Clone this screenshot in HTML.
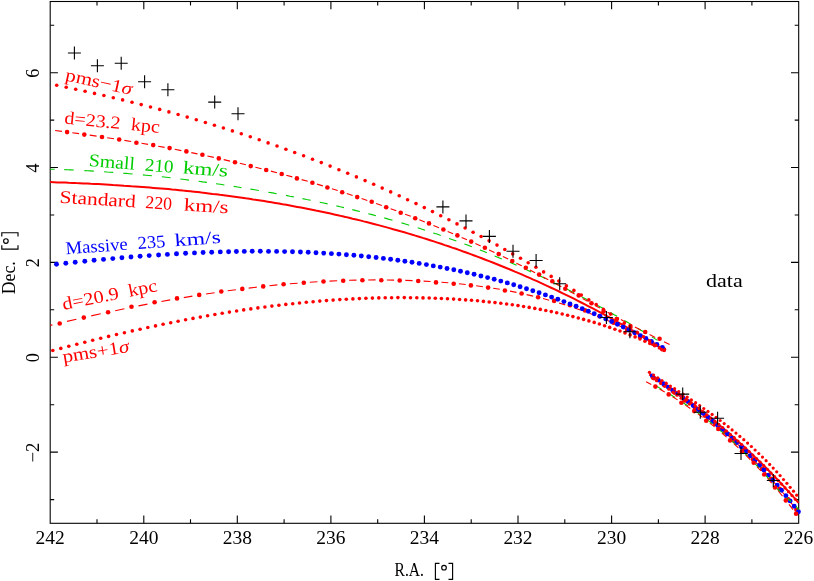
<!DOCTYPE html>
<html><head><meta charset="utf-8"><title>orbit fits</title>
<style>html,body{margin:0;padding:0;background:#fff}svg{display:block;will-change:transform}</style></head>
<body>
<svg width="814" height="581" viewBox="0 0 814 581" font-family="'Liberation Serif', serif">
<rect width="814" height="581" fill="#fff"/>
<defs><clipPath id="c"><rect x="49.7" y="1.5" width="752.1" height="521.8"/></clipPath></defs>
<rect x="50.2" y="1.5" width="748.5" height="521.8" fill="none" stroke="#000" stroke-width="1.08"/>
<path d="M751.9 523.3v-4M751.9 1.5v4M705.1 523.3v-7.7M705.1 1.5v7.7M658.4 523.3v-4M658.4 1.5v4M611.6 523.3v-7.7M611.6 1.5v7.7M564.8 523.3v-4M564.8 1.5v4M518 523.3v-7.7M518 1.5v7.7M471.2 523.3v-4M471.2 1.5v4M424.4 523.3v-7.7M424.4 1.5v7.7M377.7 523.3v-4M377.7 1.5v4M330.9 523.3v-7.7M330.9 1.5v7.7M284.1 523.3v-4M284.1 1.5v4M237.3 523.3v-7.7M237.3 1.5v7.7M190.5 523.3v-4M190.5 1.5v4M143.8 523.3v-7.7M143.8 1.5v7.7M97 523.3v-4M97 1.5v4M50.2 499.6h4M798.7 499.6h-4M50.2 452.1h7.7M798.7 452.1h-7.7M50.2 404.7h4M798.7 404.7h-4M50.2 357.3h7.7M798.7 357.3h-7.7M50.2 309.8h4M798.7 309.8h-4M50.2 262.4h7.7M798.7 262.4h-7.7M50.2 215h4M798.7 215h-4M50.2 167.5h7.7M798.7 167.5h-7.7M50.2 120.1h4M798.7 120.1h-4M50.2 72.7h7.7M798.7 72.7h-7.7M50.2 25.2h4M798.7 25.2h-4" fill="none" stroke="#000" stroke-width="1.1"/>
<g clip-path="url(#c)">
<path d="M50.3 182.1 L54 182.2 L57.7 182.4 L61.4 182.5 L65 182.6 L68.7 182.8 L72.4 182.9 L76.1 183.1 L79.8 183.2 L83.5 183.4 L87.2 183.6 L90.9 183.8 L94.5 183.9 L98.2 184.1 L101.9 184.3 L105.6 184.5 L109.3 184.7 L113 185 L116.7 185.2 L120.4 185.4 L124 185.7 L127.7 185.9 L131.4 186.2 L135.1 186.4 L138.8 186.7 L142.5 187 L146.2 187.3 L149.9 187.6 L153.5 187.9 L157.2 188.2 L160.9 188.5 L164.6 188.8 L168.3 189.1 L172 189.5 L175.7 189.8 L179.3 190.2 L183 190.6 L186.7 190.9 L190.4 191.3 L194.1 191.7 L197.8 192.1 L201.5 192.6 L205.2 193 L208.8 193.4 L212.5 193.9 L216.2 194.3 L219.9 194.8 L223.6 195.2 L227.3 195.7 L231 196.2 L234.7 196.7 L238.3 197.2 L242 197.7 L245.7 198.3 L249.4 198.8 L253.1 199.4 L256.8 199.9 L260.5 200.5 L264.1 201.1 L267.8 201.7 L271.5 202.3 L275.2 202.9 L278.9 203.5 L282.6 204.2 L286.3 204.8 L290 205.5 L293.6 206.2 L297.3 206.9 L301 207.6 L304.7 208.3 L308.4 209 L312.1 209.7 L315.8 210.5 L319.5 211.2 L323.1 212 L326.8 212.8 L330.5 213.6 L334.2 214.4 L337.9 215.2 L341.6 216.1 L345.3 216.9 L349 217.8 L352.6 218.7 L356.3 219.5 L360 220.4 L363.7 221.4 L367.4 222.3 L371.1 223.2 L374.8 224.2 L378.4 225.1 L382.1 226.1 L385.8 227.1 L389.5 228.1 L393.2 229.2 L396.9 230.2 L400.6 231.3 L404.3 232.3 L407.9 233.4 L411.6 234.5 L415.3 235.6 L419 236.7 L422.7 237.9 L426.4 239 L430.1 240.2 L433.8 241.4 L437.4 242.6 L441.1 243.8 L444.8 245.1 L448.5 246.3 L452.2 247.6 L455.9 248.8 L459.6 250.1 L463.2 251.5 L466.9 252.8 L470.6 254.1 L474.3 255.5 L478 256.9 L481.7 258.3 L485.4 259.7 L489.1 261.1 L492.7 262.5 L496.4 264 L500.1 265.5 L503.8 267 L507.5 268.5 L511.2 270 L514.9 271.6 L518.6 273.1 L522.2 274.7 L525.9 276.3 L529.6 277.9 L533.3 279.6 L537 281.2 L540.7 282.9 L544.4 284.6 L548.1 286.3 L551.7 288 L555.4 289.7 L559.1 291.5 L562.8 293.3 L566.5 295.1 L570.2 296.9 L573.9 298.7 L577.5 300.6 L581.2 302.5 L584.9 304.3 L588.6 306.3 L592.3 308.2 L596 310.1 L599.7 312.1 L603.4 314.1 L607 316.1 L610.7 318.1 L614.4 320.2 L618.1 322.3 L621.8 324.4 L625.5 326.5 L629.2 328.6 L632.9 330.7 L636.5 332.9 L640.2 335.1 L643.9 337.3 L647.6 339.5 L651.3 341.8 L655 344.1 L658.7 346.4 L662.3 348.7 L664.5 350" fill="none" stroke="#ff0000" stroke-width="2.0" stroke-linejoin="round"/>
<path d="M649.5 373.7 L650.4 374.3 L651.3 374.9 L652.2 375.5 L653.1 376.1 L654 376.7 L654.9 377.3 L655.8 377.9 L656.7 378.5 L657.6 379.1 L658.5 379.7 L659.3 380.3 L660.2 380.9 L661.1 381.5 L662 382.1 L662.9 382.7 L663.8 383.3 L664.7 383.9 L665.6 384.5 L666.5 385.1 L667.4 385.7 L668.3 386.4 L669.2 387 L670.1 387.6 L671 388.2 L671.9 388.9 L672.8 389.5 L673.7 390.1 L674.6 390.7 L675.5 391.4 L676.4 392 L677.2 392.7 L678.1 393.3 L679 393.9 L679.9 394.6 L680.8 395.2 L681.7 395.9 L682.6 396.5 L683.5 397.2 L684.4 397.8 L685.3 398.5 L686.2 399.1 L687.1 399.8 L688 400.5 L688.9 401.1 L689.8 401.8 L690.7 402.5 L691.6 403.1 L692.5 403.8 L693.4 404.5 L694.3 405.2 L695.1 405.8 L696 406.5 L696.9 407.2 L697.8 407.9 L698.7 408.6 L699.6 409.3 L700.5 410 L701.4 410.7 L702.3 411.4 L703.2 412.1 L704.1 412.8 L705 413.5 L705.9 414.2 L706.8 414.9 L707.7 415.6 L708.6 416.3 L709.5 417 L710.4 417.7 L711.3 418.5 L712.2 419.2 L713 419.9 L713.9 420.7 L714.8 421.4 L715.7 422.1 L716.6 422.9 L717.5 423.6 L718.4 424.3 L719.3 425.1 L720.2 425.8 L721.1 426.6 L722 427.3 L722.9 428.1 L723.8 428.8 L724.7 429.6 L725.6 430.4 L726.5 431.1 L727.4 431.9 L728.3 432.7 L729.2 433.5 L730.1 434.2 L730.9 435 L731.8 435.8 L732.7 436.6 L733.6 437.4 L734.5 438.2 L735.4 439 L736.3 439.7 L737.2 440.5 L738.1 441.3 L739 442.2 L739.9 443 L740.8 443.8 L741.7 444.6 L742.6 445.4 L743.5 446.2 L744.4 447 L745.3 447.9 L746.2 448.7 L747.1 449.5 L748 450.4 L748.9 451.2 L749.7 452 L750.6 452.9 L751.5 453.7 L752.4 454.6 L753.3 455.4 L754.2 456.3 L755.1 457.2 L756 458 L756.9 458.9 L757.8 459.7 L758.7 460.6 L759.6 461.5 L760.5 462.4 L761.4 463.3 L762.3 464.1 L763.2 465 L764.1 465.9 L765 466.8 L765.9 467.7 L766.8 468.6 L767.6 469.5 L768.5 470.4 L769.4 471.3 L770.3 472.2 L771.2 473.2 L772.1 474.1 L773 475 L773.9 475.9 L774.8 476.9 L775.7 477.8 L776.6 478.7 L777.5 479.7 L778.4 480.6 L779.3 481.6 L780.2 482.5 L781.1 483.5 L782 484.4 L782.9 485.4 L783.8 486.3 L784.7 487.3 L785.5 488.3 L786.4 489.3 L787.3 490.2 L788.2 491.2 L789.1 492.2 L790 493.2 L790.9 494.2 L791.8 495.2 L792.7 496.2 L793.6 497.2 L794.5 498.2 L795.4 499.2 L796.3 500.2 L797.2 501.3 L798.1 502.3 L798.6 502.9" fill="none" stroke="#ff0000" stroke-width="2.0" stroke-linejoin="round"/>
<path d="M50.3 325.4L52.4 324.9M67 321.4L76.4 319.3M91.2 315.9L100.7 313.8M115.2 310.7L124.4 308.8M138.5 305.9L147.5 304.1M161.4 301.5L170.2 299.9M183.8 297.6L192.4 296.1M205.9 294L214.6 292.7M227.7 290.8L235.9 289.7M248.7 288.1L256.8 287.1M269.4 285.7L277.4 284.9M289.8 283.8L297.6 283.2M309.8 282.3L317.5 281.8M329.5 281.1L337.2 280.8M349.1 280.3L356.5 280.1M368.2 280L375.5 279.9M386.9 280L394.1 280.1M405.3 280.4L412.6 280.6M423.6 281.1L430.6 281.5M441.4 282.2L448.3 282.8M459 283.8L465.7 284.5M476.2 285.8L482.9 286.7M493.2 288.2L499.8 289.3M510 291.1L516.5 292.4M526.6 294.6L533.1 296.1M543 298.5L549.2 300.2M559 303L565.2 304.9M574.6 308L580.4 310M589.4 313.3L595.1 315.4M603.8 319L609.3 321.3M617.6 325L622.9 327.4M631 331.3L636.1 333.9M643.8 338L648.7 340.6M656 344.8L660.5 347.4" fill="none" stroke="#ff0000" stroke-width="1.1"/>
<g fill="#ff0000"><circle cx="59.7" cy="323.5" r="2.3"/><circle cx="83.8" cy="317.6" r="2.3"/><circle cx="108.1" cy="312.2" r="2.3"/><circle cx="131.5" cy="306.7" r="2.3"/><circle cx="154.6" cy="302.3" r="2.3"/><circle cx="177" cy="298.4" r="2.3"/><circle cx="199.2" cy="294.9" r="2.3"/><circle cx="221.3" cy="291.5" r="2.3"/><circle cx="242.3" cy="288.9" r="2.3"/><circle cx="263.2" cy="286.4" r="2.3"/><circle cx="283.6" cy="284.2" r="2.3"/><circle cx="303.8" cy="282.7" r="2.3"/><circle cx="323.5" cy="281.5" r="2.3"/><circle cx="343.2" cy="280.8" r="2.3"/><circle cx="362.4" cy="280.3" r="2.3"/><circle cx="381.3" cy="280.3" r="2.3"/><circle cx="399.7" cy="280.5" r="2.3"/><circle cx="418.2" cy="281" r="2.3"/><circle cx="436" cy="282.4" r="2.3"/><circle cx="453.7" cy="283.7" r="2.3"/><circle cx="470.9" cy="285.4" r="2.3"/><circle cx="488.1" cy="287.6" r="2.3"/><circle cx="504.9" cy="290.5" r="2.3"/><circle cx="521.6" cy="293.5" r="2.3"/><circle cx="538.1" cy="297.2" r="2.3"/><circle cx="554.1" cy="300.9" r="2.3"/><circle cx="570" cy="305.2" r="2.3"/><circle cx="585" cy="310.4" r="2.3"/><circle cx="599.5" cy="316.2" r="2.3"/><circle cx="613.5" cy="322.7" r="2.3"/><circle cx="627" cy="329.8" r="2.3"/><circle cx="640" cy="337" r="2.3"/><circle cx="652.5" cy="343.6" r="2.3"/><circle cx="664" cy="349.6" r="2.3"/></g>
<path d="M649 374.8L650.8 376.1M657.1 380.4L661.1 383.1M667.4 387.5L671.4 390.4M677.7 394.9L681.7 397.8M687.9 402.4L691.8 405.4M698 410.2L701.9 413.3M708 418.2L711.9 421.4M717.9 426.4L721.7 429.7M727.6 435L731.4 438.4M737.2 443.8L740.9 447.3M746.6 452.9L750.2 456.5M755.8 462.3L759.4 466M764.8 471.9L768.3 475.8M773.6 481.8L777 485.8M782.3 492L785.6 496M790.7 502.4L793.9 506.5" fill="none" stroke="#ff0000" stroke-width="1.1"/>
<g fill="#ff0000"><circle cx="654" cy="378.2" r="2.3"/><circle cx="664.3" cy="385.3" r="2.3"/><circle cx="674.5" cy="392.6" r="2.3"/><circle cx="684.8" cy="400.1" r="2.3"/><circle cx="694.9" cy="407.8" r="2.3"/><circle cx="705" cy="415.7" r="2.3"/><circle cx="714.9" cy="423.9" r="2.3"/><circle cx="724.7" cy="432.3" r="2.3"/><circle cx="734.3" cy="441.1" r="2.3"/><circle cx="743.7" cy="450.1" r="2.3"/><circle cx="753" cy="459.4" r="2.3"/><circle cx="762.1" cy="468.9" r="2.3"/><circle cx="771" cy="478.8" r="2.3"/><circle cx="779.6" cy="488.9" r="2.3"/><circle cx="788.1" cy="499.2" r="2.3"/><circle cx="796.4" cy="509.8" r="2.3"/></g>
<g fill="#0000ff"><circle cx="56.5" cy="264.2" r="2.45"/><circle cx="65.8" cy="263.2" r="2.45"/><circle cx="75.2" cy="262.2" r="2.45"/><circle cx="84.8" cy="261.2" r="2.45"/><circle cx="94.1" cy="260.3" r="2.45"/><circle cx="103.5" cy="259.4" r="2.45"/><circle cx="112.8" cy="258.6" r="2.45"/><circle cx="121.9" cy="257.8" r="2.45"/><circle cx="131" cy="257" r="2.45"/><circle cx="140.1" cy="256.3" r="2.45"/><circle cx="149.2" cy="255.6" r="2.45"/><circle cx="158.6" cy="255" r="2.45"/><circle cx="167.4" cy="254.4" r="2.45"/><circle cx="176.5" cy="253.8" r="2.45"/><circle cx="185.6" cy="253.3" r="2.45"/><circle cx="194.5" cy="252.9" r="2.45"/><circle cx="203.1" cy="252.5" r="2.45"/><circle cx="211.7" cy="252.2" r="2.45"/><circle cx="220.3" cy="251.9" r="2.45"/><circle cx="228.6" cy="251.7" r="2.45"/><circle cx="236.4" cy="251.5" r="2.45"/><circle cx="244.3" cy="251.4" r="2.45"/><circle cx="252.2" cy="251.3" r="2.45"/><circle cx="260.3" cy="251.3" r="2.45"/><circle cx="268.5" cy="251.4" r="2.45"/><circle cx="276.6" cy="251.4" r="2.45"/><circle cx="284.6" cy="251.6" r="2.45"/><circle cx="292.5" cy="251.8" r="2.45"/><circle cx="300.4" cy="252" r="2.45"/><circle cx="308.2" cy="252.3" r="2.45"/><circle cx="316" cy="252.7" r="2.45"/><circle cx="323.7" cy="253.1" r="2.45"/><circle cx="331.4" cy="253.6" r="2.45"/><circle cx="338.9" cy="254.1" r="2.45"/><circle cx="346.4" cy="254.7" r="2.45"/><circle cx="353.9" cy="255.3" r="2.45"/><circle cx="361.3" cy="256" r="2.45"/><circle cx="368.7" cy="256.7" r="2.45"/><circle cx="376.1" cy="257.5" r="2.45"/><circle cx="383.4" cy="258.4" r="2.45"/><circle cx="390.6" cy="259.3" r="2.45"/><circle cx="397.8" cy="260.2" r="2.45"/><circle cx="404.9" cy="261.2" r="2.45"/><circle cx="412" cy="262.3" r="2.45"/><circle cx="419.2" cy="263.4" r="2.45"/><circle cx="426.4" cy="264.6" r="2.45"/><circle cx="433.3" cy="265.9" r="2.45"/><circle cx="440.2" cy="267.1" r="2.45"/><circle cx="447" cy="268.5" r="2.45"/><circle cx="453.8" cy="269.8" r="2.45"/><circle cx="460.5" cy="271.3" r="2.45"/><circle cx="467.3" cy="272.8" r="2.45"/><circle cx="474.1" cy="274.3" r="2.45"/><circle cx="480.9" cy="276" r="2.45"/><circle cx="487.6" cy="277.6" r="2.45"/><circle cx="494.2" cy="279.3" r="2.45"/><circle cx="500.8" cy="281.1" r="2.45"/><circle cx="507.3" cy="282.9" r="2.45"/><circle cx="513.7" cy="284.8" r="2.45"/><circle cx="520.1" cy="286.7" r="2.45"/><circle cx="526.5" cy="288.7" r="2.45"/><circle cx="532.8" cy="290.7" r="2.45"/><circle cx="539.1" cy="292.8" r="2.45"/><circle cx="545.4" cy="294.9" r="2.45"/><circle cx="551.6" cy="297.1" r="2.45"/><circle cx="557.8" cy="299.3" r="2.45"/><circle cx="563.9" cy="301.6" r="2.45"/><circle cx="570" cy="303.9" r="2.45"/><circle cx="576.1" cy="306.3" r="2.45"/><circle cx="582.2" cy="308.7" r="2.45"/><circle cx="588.3" cy="311.3" r="2.45"/><circle cx="594.2" cy="313.8" r="2.45"/><circle cx="600" cy="316.3" r="2.45"/><circle cx="605.8" cy="318.9" r="2.45"/><circle cx="611.6" cy="321.5" r="2.45"/><circle cx="617.4" cy="324.2" r="2.45"/><circle cx="623.2" cy="327" r="2.45"/><circle cx="628.9" cy="329.8" r="2.45"/><circle cx="634.7" cy="332.7" r="2.45"/><circle cx="640.4" cy="335.6" r="2.45"/><circle cx="645.9" cy="338.5" r="2.45"/><circle cx="651.4" cy="341.5" r="2.45"/><circle cx="656.9" cy="344.5" r="2.45"/><circle cx="662.4" cy="347.5" r="2.45"/></g>
<g fill="#0000ff"><circle cx="652.3" cy="375.9" r="2.45"/><circle cx="658.3" cy="380.1" r="2.45"/><circle cx="663.5" cy="383.7" r="2.45"/><circle cx="668.2" cy="387.1" r="2.45"/><circle cx="672.8" cy="390.4" r="2.45"/><circle cx="677.7" cy="393.9" r="2.45"/><circle cx="682.7" cy="397.6" r="2.45"/><circle cx="687.9" cy="401.5" r="2.45"/><circle cx="693.2" cy="405.6" r="2.45"/><circle cx="698.2" cy="409.5" r="2.45"/><circle cx="703.1" cy="413.3" r="2.45"/><circle cx="708.1" cy="417.4" r="2.45"/><circle cx="712.8" cy="421.3" r="2.45"/><circle cx="717.7" cy="425.4" r="2.45"/><circle cx="722.3" cy="429.4" r="2.45"/><circle cx="727.4" cy="433.9" r="2.45"/><circle cx="732" cy="438.1" r="2.45"/><circle cx="736.7" cy="442.5" r="2.45"/><circle cx="741.3" cy="446.8" r="2.45"/><circle cx="746" cy="451.4" r="2.45"/><circle cx="750.3" cy="455.7" r="2.45"/><circle cx="754.9" cy="460.5" r="2.45"/><circle cx="759.5" cy="465.3" r="2.45"/><circle cx="763.9" cy="470" r="2.45"/><circle cx="768.5" cy="475.1" r="2.45"/><circle cx="772.9" cy="480.1" r="2.45"/><circle cx="777.2" cy="485.1" r="2.45"/><circle cx="781.5" cy="490.3" r="2.45"/><circle cx="785.9" cy="495.7" r="2.45"/><circle cx="790.1" cy="500.9" r="2.45"/><circle cx="794.2" cy="506.2" r="2.45"/><circle cx="798.4" cy="511.8" r="2.45"/></g>
<path d="M50.3 169.2L54.7 169.3M64.3 169.6L67.5 169.8L70.7 169.9L73.8 170M84.4 170.6L87.5 170.7L90.6 170.9L93.8 171.1M104.1 171.7L107.1 172L110.2 172.2L113.2 172.4M123.2 173.2L126.3 173.4L129.4 173.7L132.6 174M142.9 174.9L145.9 175.2L148.9 175.5L151.9 175.8M161.8 176.8L166.2 177.3L170.6 177.8M180.3 179L184.6 179.5L189 180.1M198.6 181.3L202.7 181.9L206.9 182.4M216 183.7L220.2 184.3L224.4 185M233.7 186.4L237.7 187L241.6 187.7M250.4 189.1L254.7 189.8L258.9 190.5M268.3 192.2L272.5 192.9L276.7 193.7M286 195.4L289.9 196.2L293.8 196.9M302.5 198.6L306.6 199.5L310.7 200.3M319.7 202.2L323.7 203L327.6 203.9M336.4 205.9L340.2 206.8L344 207.6M352.3 209.6L356.1 210.6L359.9 211.5M368.3 213.7L372.1 214.6L375.9 215.7M384.3 217.9L388.4 219.1L392.5 220.2M401.5 222.9L405.4 224L409.2 225.2M417.7 227.8L421.4 229L425.1 230.2M433.2 232.9L437 234.1L440.8 235.4M449.1 238.4L452.7 239.7L456.4 241M464.4 244L468.1 245.3L471.8 246.8M479.9 249.9L483.4 251.3L486.9 252.7M494.6 255.9L498.2 257.4L501.8 258.9M509.8 262.3L513.2 263.8L516.6 265.3M524.1 268.7L527.6 270.3L531.1 271.9M538.9 275.5L542.3 277.1L545.6 278.7M553 282.3L556.4 283.9L559.7 285.6M567.1 289.3L570.6 291.1L574.2 292.9M582 297L585.5 298.8L589 300.7M596.7 304.9L600 306.7L603.3 308.5M610.5 312.5L613.8 314.4L617.1 316.2M624.3 320.4L627.4 322.2L630.6 324.1M637.5 328.2L640.9 330.3L644.4 332.3M651.9 336.9L654.7 338.6L657.4 340.4" fill="none" stroke="#00cc00" stroke-width="1.1"/>
<path d="M655.4 385.7L658.7 387.6L662.1 389.6M668.7 393.5L671.9 395.5L675.1 397.5M681.4 401.5L684.6 403.7L687.8 405.8M694.2 410.2L697.2 412.4L700.2 414.6M706.2 419.1L709.3 421.4L712.3 423.8M718.3 428.8L721.3 431.3L724.3 433.8M730.1 439.1L733.1 441.8L736.1 444.6M742 450.4L745 453.3L747.9 456.3M753.7 462.3L756.4 465.1L759 468M764.2 473.7L766.9 476.7L769.6 479.8M775 486L777.6 489L780.2 491.9M785.8 497.5L788.5 499.5L791.2 501.5M796.1 506.2L798.6 509.8" fill="none" stroke="#00cc00" stroke-width="1.1"/>
<path d="M55.1 130.5L61.9 131.4M72.3 132.7L79.1 133.6M89.7 135.1L96.6 136.1M107.2 137.7L114 138.8M124.4 140.4L131.2 141.5M141.5 143.3L148.1 144.4M158.2 146.2L164.6 147.4M174.7 149.3L181.3 150.6M191.3 152.6L197.5 153.9M207.4 156L213.8 157.4M223.7 159.6L230.1 161.1M239.8 163.3L245.9 164.8M255.4 167.2L261.5 168.7M270.9 171.1L277 172.7M286.3 175.3L292.3 176.9M301.6 179.6L307.7 181.3M317 184.1L322.8 185.9M331.9 188.7L337.7 190.5M346.8 193.5L352.6 195.4M361.6 198.4L367.3 200.4M376.1 203.5L381.8 205.5M390.6 208.7L396.3 210.8M405.1 214.2L410.8 216.3M419.4 219.7L424.8 221.9M433.4 225.4L439 227.7M447.7 231.4L453.1 233.7M461.6 237.4L467 239.8M475.4 243.6L480.7 246M489.1 249.9L494.5 252.5M502.9 256.5L508.2 259.1M516.4 263.2L521.7 265.8M529.9 270L535.1 272.7M543.1 277L548.3 279.7M556.3 284L561.3 286.8M569.4 291.2L574.6 294M582.6 298.5L587.6 301.2M595.2 305.4L599.9 308M607.6 312.3L612.7 315M620.9 319.5L626.2 322.4M634.9 327L640.7 330M649.6 334.6L655.2 337.4M664 341.8L669.6 344.4" fill="none" stroke="#ff0000" stroke-width="1.1"/>
<g fill="#ff0000"><circle cx="67.1" cy="132.1" r="2.3"/><circle cx="84.3" cy="134.6" r="2.3"/><circle cx="102" cy="137" r="2.3"/><circle cx="119.2" cy="139.5" r="2.3"/><circle cx="136.4" cy="142.7" r="2.3"/><circle cx="153.2" cy="145.1" r="2.3"/><circle cx="169.6" cy="148.1" r="2.3"/><circle cx="186.4" cy="151.4" r="2.3"/><circle cx="202.4" cy="154.7" r="2.3"/><circle cx="218.8" cy="158.4" r="2.3"/><circle cx="235" cy="162.3" r="2.3"/><circle cx="250.7" cy="166.1" r="2.3"/><circle cx="266.2" cy="170" r="2.3"/><circle cx="281.7" cy="174" r="2.3"/><circle cx="296.9" cy="178.4" r="2.3"/><circle cx="312.4" cy="182.8" r="2.3"/><circle cx="327.4" cy="187.5" r="2.3"/><circle cx="342.2" cy="192.2" r="2.3"/><circle cx="357.2" cy="197.1" r="2.3"/><circle cx="371.7" cy="201.8" r="2.3"/><circle cx="386.2" cy="207.2" r="2.3"/><circle cx="400.7" cy="212.8" r="2.3"/><circle cx="415.2" cy="218.3" r="2.3"/><circle cx="429" cy="223.4" r="2.3"/><circle cx="443.4" cy="229.5" r="2.3"/><circle cx="457.4" cy="235.4" r="2.3"/><circle cx="471.2" cy="241.6" r="2.3"/><circle cx="484.9" cy="247.7" r="2.3"/><circle cx="498.7" cy="254.1" r="2.3"/><circle cx="512.3" cy="261" r="2.3"/><circle cx="525.8" cy="267.7" r="2.3"/><circle cx="539.1" cy="274.6" r="2.3"/><circle cx="552.3" cy="281.2" r="2.3"/><circle cx="565.3" cy="288.8" r="2.3"/><circle cx="578.7" cy="295.4" r="2.3"/><circle cx="591.5" cy="303.3" r="2.3"/><circle cx="603.6" cy="311.2" r="2.3"/><circle cx="616.7" cy="319.1" r="2.3"/><circle cx="630.4" cy="326" r="2.3"/><circle cx="645.2" cy="332" r="2.3"/><circle cx="659.6" cy="338.7" r="2.3"/></g>
<path d="M646.1 381.7L651.3 384.5M659.5 389L664.7 392M672.6 396.8L677.6 399.9M685.3 405.1L690.3 408.5M697.9 413.9L702.6 417.4M709.9 423.1L714.6 426.9M721.9 433L726.5 437M733.8 443.5L738.4 447.9M745.6 454.9L750.2 459.5M756.9 466.6L761 471M767.5 478.3L771.7 483.2M778.3 491L782.5 496.2M789 504.4L793 509.7" fill="none" stroke="#ff0000" stroke-width="1.1"/>
<g fill="#ff0000"><circle cx="655.4" cy="386.6" r="2.3"/><circle cx="668.7" cy="394.4" r="2.3"/><circle cx="681.4" cy="402.8" r="2.3"/><circle cx="694.2" cy="411.1" r="2.3"/><circle cx="706.2" cy="420.7" r="2.3"/><circle cx="718.3" cy="428.9" r="2.3"/><circle cx="730.1" cy="440.4" r="2.3"/><circle cx="742" cy="451.5" r="2.3"/><circle cx="753.7" cy="462.8" r="2.3"/><circle cx="764.2" cy="474.5" r="2.3"/><circle cx="775" cy="487.5" r="2.3"/><circle cx="785.8" cy="500.4" r="2.3"/><circle cx="796.1" cy="513.8" r="2.3"/></g>
<g fill="#ff0000"><circle cx="56.7" cy="85.3" r="1.8"/><circle cx="66.2" cy="87.3" r="1.8"/><circle cx="75.7" cy="89.2" r="1.8"/><circle cx="85.1" cy="91.3" r="1.8"/><circle cx="94.5" cy="93.4" r="1.8"/><circle cx="103.9" cy="95.5" r="1.8"/><circle cx="113.3" cy="97.7" r="1.8"/><circle cx="122.6" cy="99.9" r="1.8"/><circle cx="132" cy="102.2" r="1.8"/><circle cx="141.2" cy="104.6" r="1.8"/><circle cx="150.5" cy="107" r="1.8"/><circle cx="159.7" cy="109.4" r="1.8"/><circle cx="168.9" cy="111.9" r="1.8"/><circle cx="178.1" cy="114.5" r="1.8"/><circle cx="187.2" cy="117.1" r="1.8"/><circle cx="196.3" cy="119.8" r="1.8"/><circle cx="205.4" cy="122.5" r="1.8"/><circle cx="214.4" cy="125.2" r="1.8"/><circle cx="223.4" cy="128" r="1.8"/><circle cx="232.4" cy="130.9" r="1.8"/><circle cx="241.3" cy="133.8" r="1.8"/><circle cx="250.3" cy="136.8" r="1.8"/><circle cx="259.2" cy="139.8" r="1.8"/><circle cx="268.1" cy="142.9" r="1.8"/><circle cx="277" cy="146" r="1.8"/><circle cx="285.9" cy="149.2" r="1.8"/><circle cx="294.7" cy="152.5" r="1.8"/><circle cx="303.6" cy="155.8" r="1.8"/><circle cx="312.5" cy="159.2" r="1.8"/><circle cx="321.3" cy="162.6" r="1.8"/><circle cx="330.1" cy="166.1" r="1.8"/><circle cx="338.9" cy="169.7" r="1.8"/><circle cx="347.7" cy="173.3" r="1.8"/><circle cx="356.4" cy="176.9" r="1.8"/><circle cx="365.1" cy="180.6" r="1.8"/><circle cx="373.7" cy="184.3" r="1.8"/><circle cx="382.2" cy="188.1" r="1.8"/><circle cx="390.7" cy="191.9" r="1.8"/><circle cx="399.2" cy="195.8" r="1.8"/><circle cx="407.6" cy="199.7" r="1.8"/><circle cx="416" cy="203.6" r="1.8"/><circle cx="424.3" cy="207.6" r="1.8"/><circle cx="432.5" cy="211.6" r="1.8"/><circle cx="440.7" cy="215.7" r="1.8"/><circle cx="448.9" cy="219.8" r="1.8"/><circle cx="457" cy="223.9" r="1.8"/><circle cx="465.1" cy="228" r="1.8"/><circle cx="473.1" cy="232.3" r="1.8"/><circle cx="481.1" cy="236.5" r="1.8"/><circle cx="489.1" cy="240.8" r="1.8"/><circle cx="497" cy="245.1" r="1.8"/><circle cx="504.8" cy="249.5" r="1.8"/><circle cx="512.7" cy="253.9" r="1.8"/><circle cx="520.5" cy="258.3" r="1.8"/><circle cx="528.2" cy="262.8" r="1.8"/><circle cx="535.9" cy="267.3" r="1.8"/><circle cx="543.6" cy="271.9" r="1.8"/><circle cx="551.2" cy="276.4" r="1.8"/><circle cx="558.8" cy="281.1" r="1.8"/><circle cx="566.4" cy="285.7" r="1.8"/><circle cx="573.9" cy="290.4" r="1.8"/><circle cx="581.3" cy="295.1" r="1.8"/><circle cx="588.8" cy="299.9" r="1.8"/><circle cx="596.2" cy="304.6" r="1.8"/><circle cx="603.4" cy="309.4" r="1.8"/><circle cx="610.5" cy="314.1" r="1.8"/><circle cx="617.4" cy="318.7" r="1.8"/><circle cx="624.2" cy="323.3" r="1.8"/><circle cx="630.8" cy="327.8" r="1.8"/><circle cx="637.3" cy="332.3" r="1.8"/><circle cx="643.6" cy="336.7" r="1.8"/><circle cx="649.7" cy="341" r="1.8"/><circle cx="655.8" cy="345.3" r="1.8"/><circle cx="661.7" cy="349.6" r="1.8"/></g>
<g fill="#ff0000"><circle cx="52.8" cy="350.5" r="1.8"/><circle cx="60.8" cy="348.4" r="1.8"/><circle cx="68.8" cy="346.3" r="1.8"/><circle cx="76.8" cy="344.2" r="1.8"/><circle cx="84.8" cy="342.2" r="1.8"/><circle cx="92.7" cy="340.3" r="1.8"/><circle cx="100.7" cy="338.3" r="1.8"/><circle cx="108.6" cy="336.4" r="1.8"/><circle cx="116.5" cy="334.5" r="1.8"/><circle cx="124.4" cy="332.7" r="1.8"/><circle cx="132.3" cy="330.9" r="1.8"/><circle cx="140.1" cy="329.2" r="1.8"/><circle cx="147.8" cy="327.5" r="1.8"/><circle cx="155.5" cy="325.9" r="1.8"/><circle cx="163.1" cy="324.3" r="1.8"/><circle cx="170.7" cy="322.7" r="1.8"/><circle cx="178.1" cy="321.3" r="1.8"/><circle cx="185.6" cy="319.8" r="1.8"/><circle cx="193" cy="318.4" r="1.8"/><circle cx="200.3" cy="317.1" r="1.8"/><circle cx="207.6" cy="315.8" r="1.8"/><circle cx="214.9" cy="314.5" r="1.8"/><circle cx="222.2" cy="313.3" r="1.8"/><circle cx="229.4" cy="312.1" r="1.8"/><circle cx="236.6" cy="311" r="1.8"/><circle cx="243.7" cy="309.9" r="1.8"/><circle cx="250.8" cy="308.9" r="1.8"/><circle cx="257.9" cy="307.9" r="1.8"/><circle cx="264.9" cy="307" r="1.8"/><circle cx="271.9" cy="306.1" r="1.8"/><circle cx="278.9" cy="305.2" r="1.8"/><circle cx="285.8" cy="304.4" r="1.8"/><circle cx="292.7" cy="303.7" r="1.8"/><circle cx="299.5" cy="303" r="1.8"/><circle cx="306.3" cy="302.3" r="1.8"/><circle cx="313.1" cy="301.7" r="1.8"/><circle cx="319.8" cy="301.1" r="1.8"/><circle cx="326.5" cy="300.6" r="1.8"/><circle cx="333.1" cy="300.1" r="1.8"/><circle cx="339.8" cy="299.6" r="1.8"/><circle cx="346.3" cy="299.2" r="1.8"/><circle cx="352.9" cy="298.9" r="1.8"/><circle cx="359.4" cy="298.6" r="1.8"/><circle cx="365.9" cy="298.3" r="1.8"/><circle cx="372.4" cy="298.1" r="1.8"/><circle cx="378.8" cy="297.9" r="1.8"/><circle cx="385.2" cy="297.8" r="1.8"/><circle cx="391.6" cy="297.7" r="1.8"/><circle cx="397.9" cy="297.6" r="1.8"/><circle cx="404.3" cy="297.6" r="1.8"/><circle cx="410.5" cy="297.7" r="1.8"/><circle cx="416.8" cy="297.7" r="1.8"/><circle cx="423" cy="297.9" r="1.8"/><circle cx="429.2" cy="298" r="1.8"/><circle cx="435.3" cy="298.2" r="1.8"/><circle cx="441.4" cy="298.5" r="1.8"/><circle cx="447.5" cy="298.8" r="1.8"/><circle cx="453.6" cy="299.1" r="1.8"/><circle cx="459.6" cy="299.5" r="1.8"/><circle cx="465.6" cy="299.9" r="1.8"/><circle cx="471.5" cy="300.3" r="1.8"/><circle cx="477.5" cy="300.8" r="1.8"/><circle cx="483.4" cy="301.4" r="1.8"/><circle cx="489.2" cy="302" r="1.8"/><circle cx="495" cy="302.6" r="1.8"/><circle cx="500.8" cy="303.3" r="1.8"/><circle cx="506.6" cy="304" r="1.8"/><circle cx="512.3" cy="304.8" r="1.8"/><circle cx="518" cy="305.6" r="1.8"/><circle cx="523.6" cy="306.5" r="1.8"/><circle cx="529.2" cy="307.4" r="1.8"/><circle cx="534.8" cy="308.4" r="1.8"/><circle cx="540.3" cy="309.4" r="1.8"/><circle cx="545.8" cy="310.5" r="1.8"/><circle cx="551.3" cy="311.6" r="1.8"/><circle cx="556.7" cy="312.8" r="1.8"/><circle cx="562.2" cy="314" r="1.8"/><circle cx="567.6" cy="315.3" r="1.8"/><circle cx="572.9" cy="316.6" r="1.8"/><circle cx="578.3" cy="318" r="1.8"/><circle cx="583.6" cy="319.4" r="1.8"/><circle cx="588.9" cy="320.9" r="1.8"/><circle cx="594.2" cy="322.4" r="1.8"/><circle cx="599.4" cy="324" r="1.8"/><circle cx="604.6" cy="325.7" r="1.8"/><circle cx="609.7" cy="327.4" r="1.8"/><circle cx="614.9" cy="329.2" r="1.8"/><circle cx="620" cy="331" r="1.8"/><circle cx="625" cy="332.9" r="1.8"/><circle cx="630.1" cy="334.9" r="1.8"/><circle cx="635.1" cy="336.9" r="1.8"/><circle cx="640" cy="339" r="1.8"/><circle cx="644.9" cy="341.2" r="1.8"/><circle cx="649.8" cy="343.4" r="1.8"/><circle cx="654.6" cy="345.7" r="1.8"/><circle cx="659.4" cy="348" r="1.8"/><circle cx="664.1" cy="350.4" r="1.8"/></g>
<g fill="#ff0000"><circle cx="649.4" cy="372.3" r="1.6"/><circle cx="653.6" cy="375" r="1.6"/><circle cx="657.8" cy="377.8" r="1.6"/><circle cx="662" cy="380.5" r="1.6"/><circle cx="666.2" cy="383.2" r="1.6"/><circle cx="670.4" cy="386" r="1.6"/><circle cx="674.6" cy="388.7" r="1.6"/><circle cx="678.8" cy="391.5" r="1.6"/><circle cx="683" cy="394.2" r="1.6"/><circle cx="687.2" cy="397" r="1.6"/><circle cx="691.4" cy="399.9" r="1.6"/><circle cx="695.6" cy="402.7" r="1.6"/><circle cx="699.7" cy="405.6" r="1.6"/><circle cx="703.8" cy="408.5" r="1.6"/><circle cx="708" cy="411.4" r="1.6"/><circle cx="712.1" cy="414.4" r="1.6"/><circle cx="716.1" cy="417.4" r="1.6"/><circle cx="720.2" cy="420.5" r="1.6"/><circle cx="724.2" cy="423.6" r="1.6"/><circle cx="728.2" cy="426.7" r="1.6"/><circle cx="732.1" cy="429.9" r="1.6"/><circle cx="736" cy="433.1" r="1.6"/><circle cx="739.9" cy="436.4" r="1.6"/><circle cx="743.8" cy="439.7" r="1.6"/><circle cx="747.6" cy="443.1" r="1.6"/><circle cx="751.4" cy="446.5" r="1.6"/><circle cx="755.1" cy="450" r="1.6"/><circle cx="758.8" cy="453.5" r="1.6"/><circle cx="762.5" cy="457.1" r="1.6"/><circle cx="766.1" cy="460.7" r="1.6"/><circle cx="769.7" cy="464.4" r="1.6"/><circle cx="773.2" cy="468.1" r="1.6"/><circle cx="776.7" cy="471.8" r="1.6"/><circle cx="780.1" cy="475.6" r="1.6"/><circle cx="783.5" cy="479.5" r="1.6"/><circle cx="786.9" cy="483.3" r="1.6"/><circle cx="790.2" cy="487.3" r="1.6"/><circle cx="793.5" cy="491.2" r="1.6"/><circle cx="796.7" cy="495.2" r="1.6"/></g>
<g fill="#ff0000"><circle cx="678.6" cy="393.8" r="1.6"/><circle cx="682.8" cy="396.7" r="1.6"/><circle cx="686.9" cy="399.6" r="1.6"/><circle cx="691" cy="402.6" r="1.6"/><circle cx="695" cy="405.6" r="1.6"/><circle cx="699" cy="408.6" r="1.6"/><circle cx="703" cy="411.7" r="1.6"/><circle cx="707" cy="414.8" r="1.6"/><circle cx="711" cy="418" r="1.6"/><circle cx="714.9" cy="421.2" r="1.6"/><circle cx="718.8" cy="424.4" r="1.6"/><circle cx="722.7" cy="427.7" r="1.6"/><circle cx="726.5" cy="431" r="1.6"/><circle cx="730.3" cy="434.3" r="1.6"/><circle cx="734.2" cy="437.7" r="1.6"/><circle cx="737.9" cy="441.1" r="1.6"/><circle cx="741.7" cy="444.5" r="1.6"/><circle cx="745.4" cy="448" r="1.6"/><circle cx="749.1" cy="451.5" r="1.6"/><circle cx="752.8" cy="455" r="1.6"/><circle cx="756.5" cy="458.5" r="1.6"/><circle cx="760.1" cy="462.1" r="1.6"/><circle cx="763.8" cy="465.7" r="1.6"/><circle cx="767.4" cy="469.3" r="1.6"/><circle cx="771" cy="473" r="1.6"/><circle cx="774.5" cy="476.7" r="1.6"/><circle cx="778.1" cy="480.4" r="1.6"/><circle cx="781.6" cy="484.1" r="1.6"/><circle cx="785.1" cy="487.9" r="1.6"/><circle cx="788.5" cy="491.7" r="1.6"/><circle cx="792" cy="495.5" r="1.6"/><circle cx="795.4" cy="499.3" r="1.6"/></g>
<g fill="#ff0000"><circle cx="652.3" cy="378.1" r="1.6"/><circle cx="656.5" cy="380.7" r="1.6"/><circle cx="660.7" cy="383.4" r="1.6"/><circle cx="664.8" cy="386.3" r="1.6"/><circle cx="668.9" cy="389.2" r="1.6"/><circle cx="673" cy="392.2" r="1.6"/><circle cx="677" cy="395.2" r="1.6"/><circle cx="681.1" cy="398.2" r="1.6"/><circle cx="685.1" cy="401.1" r="1.6"/><circle cx="689.2" cy="404.1" r="1.6"/></g>
</g>
<path d="M67.9 53h13M74.4 46.5v13M90.9 65.7h13M97.4 59.2v13M114.7 63.2h13M121.2 56.7v13M138.1 81.7h13M144.6 75.2v13M161.4 89.8h13M167.9 83.3v13M208.2 102.1h13M214.7 95.6v13M231.5 113.7h13M238 107.2v13M436.4 206.9h13M442.9 200.4v13M459.5 220.9h13M466 214.4v13M482.9 236.4h13M489.4 229.9v13M506.5 251.2h13M513 244.7v13M529.6 260.5h13M536.1 254v13M553.2 283.8h13M559.7 277.3v13M599.9 317.5h13M606.4 311v13M623.4 331.8h13M629.9 325.3v13M676.2 394.1h13M682.7 387.6v13M693.8 412.3h13M700.3 405.8v13M711.1 418.3h13M717.6 411.8v13M734.5 453.5h13M741 447v13M766.8 480.5h13M773.3 474v13" fill="none" stroke="#000" stroke-width="1.1"/>
<g font-size="18.2" fill="#000" text-anchor="middle">
<text x="798.7" y="544.3" textLength="29.2" lengthAdjust="spacingAndGlyphs">226</text>
<text x="705.1" y="544.3" textLength="29.2" lengthAdjust="spacingAndGlyphs">228</text>
<text x="611.6" y="544.3" textLength="29.2" lengthAdjust="spacingAndGlyphs">230</text>
<text x="518" y="544.3" textLength="29.2" lengthAdjust="spacingAndGlyphs">232</text>
<text x="424.4" y="544.3" textLength="29.2" lengthAdjust="spacingAndGlyphs">234</text>
<text x="330.9" y="544.3" textLength="29.2" lengthAdjust="spacingAndGlyphs">236</text>
<text x="237.3" y="544.3" textLength="29.2" lengthAdjust="spacingAndGlyphs">238</text>
<text x="143.8" y="544.3" textLength="29.2" lengthAdjust="spacingAndGlyphs">240</text>
<text x="50.2" y="544.3" textLength="29.2" lengthAdjust="spacingAndGlyphs">242</text>
<text transform="translate(39.4 452.5) rotate(-90)" textLength="20" lengthAdjust="spacingAndGlyphs">−2</text>
<text transform="translate(39.4 357.7) rotate(-90)" textLength="9.1" lengthAdjust="spacingAndGlyphs">0</text>
<text transform="translate(39.4 262.8) rotate(-90)" textLength="9.1" lengthAdjust="spacingAndGlyphs">2</text>
<text transform="translate(39.4 167.9) rotate(-90)" textLength="9.1" lengthAdjust="spacingAndGlyphs">4</text>
<text transform="translate(39.4 73.1) rotate(-90)" textLength="9.1" lengthAdjust="spacingAndGlyphs">6</text>
<text x="394.6" y="576.2" text-anchor="start" textLength="29.4" lengthAdjust="spacingAndGlyphs">R.A.</text>
<text transform="translate(15.2 294.2) rotate(-90)" text-anchor="start" textLength="33" lengthAdjust="spacingAndGlyphs">Dec.</text>
<g fill="none" stroke="#000" stroke-width="1.15"><path d="M439.5 563.4H435.4V579.3H439.5M448.5 563.4H452.6V579.3H448.5"/><circle cx="444" cy="567.7" r="2.3"/><path d="M1.8 245.2V249.1H18V245.2M1.8 236.6V232.7H18V236.6"/><circle cx="5.9" cy="241" r="2.3"/></g>
</g>
<text transform="translate(64.6 80.3) rotate(12.4)" font-size="18.0" fill="#ff0000" textLength="67.9" lengthAdjust="spacingAndGlyphs" xml:space="preserve">pms−1<tspan font-style="italic">σ</tspan></text>
<g transform="translate(64 123.6) rotate(5.6)" font-size="18.0" fill="#ff0000"><text x="0" y="0" textLength="56.3" lengthAdjust="spacingAndGlyphs">d=23.2</text><text x="66.8" y="0" textLength="28.9" lengthAdjust="spacingAndGlyphs">kpc</text></g>
<g transform="translate(88.4 166.1) rotate(4.4)" font-size="18.0" fill="#00cc00"><text x="0" y="0" textLength="46.3" lengthAdjust="spacingAndGlyphs">Small</text><text x="56.2" y="0" textLength="28.8" lengthAdjust="spacingAndGlyphs">210</text><text x="94.3" y="0" textLength="45.2" lengthAdjust="spacingAndGlyphs">km/s</text></g>
<g transform="translate(59.3 202.7) rotate(3.6)" font-size="18.0" fill="#ff0000"><text x="0" y="0" textLength="76.3" lengthAdjust="spacingAndGlyphs">Standard</text><text x="85.9" y="0" textLength="26.8" lengthAdjust="spacingAndGlyphs">220</text><text x="124.4" y="0" textLength="44.8" lengthAdjust="spacingAndGlyphs">km/s</text></g>
<g transform="translate(65.9 254.3) rotate(-4.2)" font-size="18.0" fill="#0000ff"><text x="0" y="0" textLength="62.3" lengthAdjust="spacingAndGlyphs">Massive</text><text x="72.4" y="0" textLength="27.7" lengthAdjust="spacingAndGlyphs">235</text><text x="109.5" y="0" textLength="46.2" lengthAdjust="spacingAndGlyphs">km/s</text></g>
<g transform="translate(63.6 309.9) rotate(-11.3)" font-size="18.0" fill="#ff0000"><text x="0" y="0" textLength="57.2" lengthAdjust="spacingAndGlyphs">d=20.9</text><text x="67.2" y="0" textLength="29" lengthAdjust="spacingAndGlyphs">kpc</text></g>
<text transform="translate(63.4 362.8) rotate(-9.3)" font-size="18.0" fill="#ff0000" textLength="67.5" lengthAdjust="spacingAndGlyphs" xml:space="preserve">pms+1<tspan font-style="italic">σ</tspan></text>
<text transform="translate(706 287) rotate(0)" font-size="18.0" fill="#000000" textLength="36.7" lengthAdjust="spacingAndGlyphs" xml:space="preserve">data</text>
</svg>
</body></html>
